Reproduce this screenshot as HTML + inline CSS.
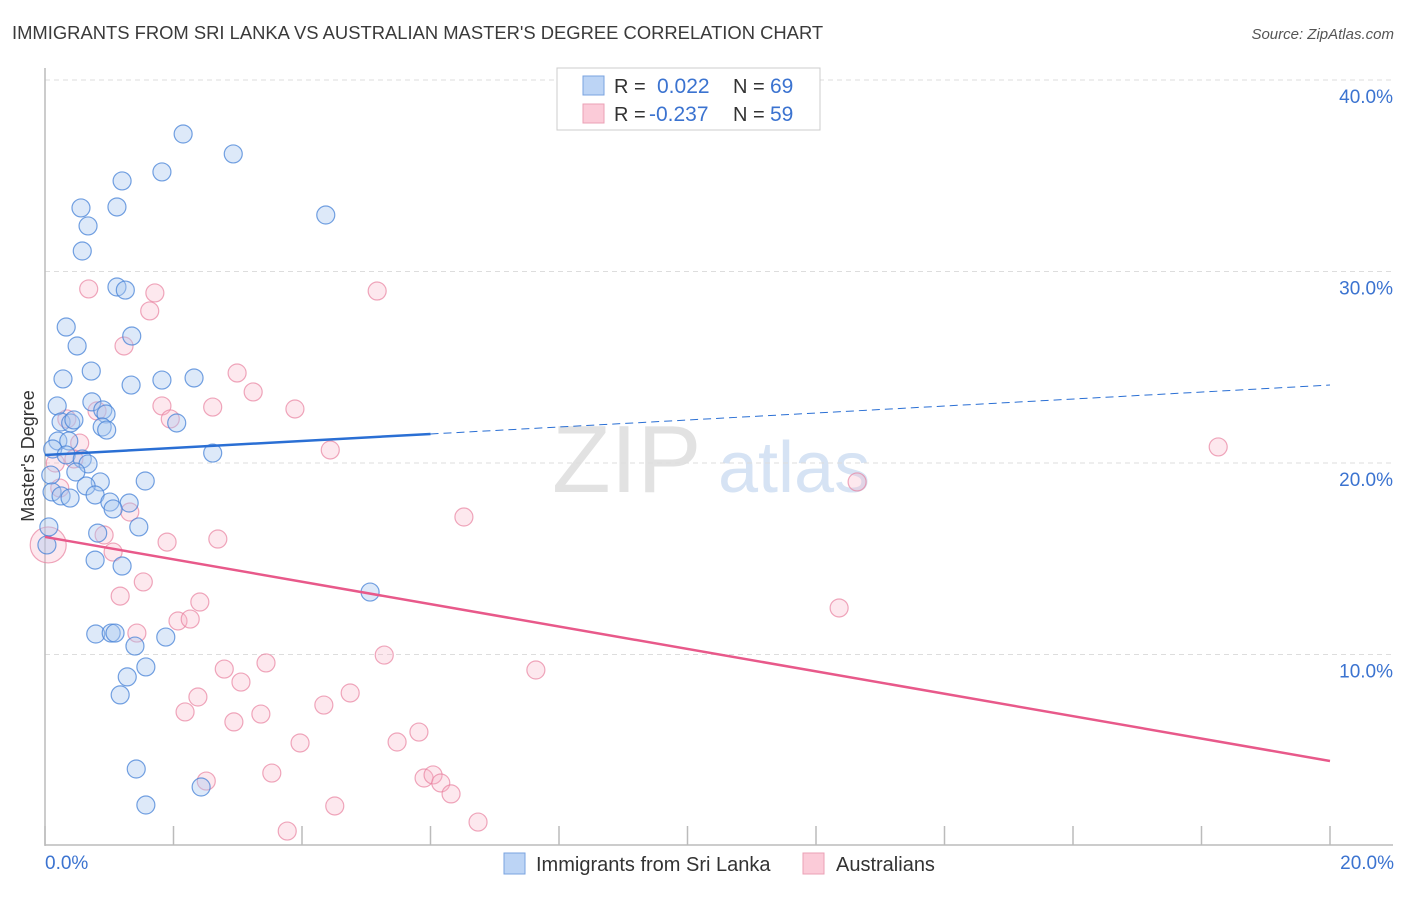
<!DOCTYPE html>
<html><head><meta charset="utf-8"><style>
body{margin:0;background:#fff;font-family:"Liberation Sans",sans-serif;}
svg text{font-family:"Liberation Sans",sans-serif;}
</style></head><body>
<svg id="chart" width="1406" height="892" viewBox="0 0 1406 892" xmlns="http://www.w3.org/2000/svg">
<text x="12" y="39" font-size="18.4" fill="#3a3a3a">IMMIGRANTS FROM SRI LANKA VS AUSTRALIAN MASTER'S DEGREE CORRELATION CHART</text>
<text x="1394" y="39" font-size="15" fill="#555" text-anchor="end" font-style="italic">Source: ZipAtlas.com</text>
<g>
<text x="552" y="492" font-size="96" fill="#e2e2e2" font-family="Liberation Serif,serif">ZIP</text>
<text x="718" y="492" font-size="72" fill="#d6e3f4">atlas</text>
</g>
<g id="grid"></g>
<line x1="45" y1="68" x2="45" y2="846" stroke="#bbb" stroke-width="1.5"/>
<line x1="45" y1="845" x2="1393" y2="845" stroke="#bbb" stroke-width="1.5"/>
<g id="xticks"></g>
<g id="ylabels"></g>
<text x="45" y="869" font-size="19" fill="#3b73d0">0.0%</text>
<text x="1394" y="869" font-size="19" fill="#3b73d0" text-anchor="end">20.0%</text>
<text transform="translate(34,456) rotate(-90)" font-size="18" fill="#333" text-anchor="middle">Master's Degree</text>
<g id="pinkpts"></g>
<g id="bluepts"></g>
<g id="trends"></g>
<g>
<rect x="557" y="68" width="263" height="62" fill="#fff" stroke="#ccc"/>
<rect x="583" y="76" width="21" height="19" fill="#bcd4f5" stroke="#7aa3e0"/>
<text x="614" y="93" font-size="20" fill="#333">R =</text>
<text x="657" y="93" font-size="21" fill="#3b73d0">0.022</text>
<text x="733" y="93" font-size="20" fill="#333">N =</text>
<text x="770" y="93" font-size="21" fill="#3b73d0">69</text>
<rect x="583" y="104" width="21" height="19" fill="#fbcbd8" stroke="#eba0b6"/>
<text x="614" y="121" font-size="20" fill="#333">R =</text>
<text x="649" y="121" font-size="21" fill="#3b73d0">-0.237</text>
<text x="733" y="121" font-size="20" fill="#333">N =</text>
<text x="770" y="121" font-size="21" fill="#3b73d0">59</text>
</g>
<g>
<rect x="504" y="853" width="21" height="21" fill="#bcd4f5" stroke="#7aa3e0"/>
<text x="536" y="871" font-size="20" fill="#333">Immigrants from Sri Lanka</text>
</g>
<g>
<rect x="803" y="853" width="21" height="21" fill="#fbcbd8" stroke="#eba0b6"/>
<text x="836" y="871" font-size="20" fill="#333">Australians</text>
</g>
</svg>
<script>
const yTicks=[10,20,30,40];
const yTickLabels=["10.0%","20.0%","30.0%","40.0%"];
const xTicks=[0,2,4,6,8,10,12,14,16,18,20];
const blueX=[2.15,2.93,1.82,1.20,0.56,1.12,0.67,4.37,0.58,1.12,1.25,0.33,1.35,0.50,0.72,0.28,1.34,1.82,2.32,0.19,0.73,0.90,0.95,0.25,0.40,0.45,0.89,0.96,2.05,0.20,0.37,2.61,0.12,0.33,0.58,0.67,0.09,0.48,0.86,1.56,0.64,0.11,0.25,0.39,0.78,1.01,1.31,1.06,1.46,0.06,0.82,0.03,0.78,1.20,5.06,0.79,1.03,1.09,1.88,1.40,1.57,1.28,1.17,1.42,1.57,2.43];
const blueY=[37.18,36.14,35.20,34.73,33.32,33.37,32.38,32.95,31.07,29.19,29.03,27.10,26.63,26.11,24.80,24.39,24.07,24.33,24.44,22.98,23.19,22.77,22.56,22.14,22.09,22.25,21.88,21.72,22.09,21.15,21.15,20.52,20.73,20.42,20.21,19.95,19.37,19.53,19.01,19.06,18.80,18.49,18.28,18.17,18.33,17.96,17.91,17.60,16.66,16.66,16.34,15.72,14.93,14.62,13.26,11.07,11.12,11.12,10.91,10.44,9.35,8.83,7.89,4.02,2.14,3.08];
const pinkX=[0.68,1.71,5.17,1.63,1.23,2.99,3.24,1.82,2.61,3.89,1.95,0.81,0.34,4.44,18.26,0.54,0.45,0.16,12.64,0.23,1.32,6.52,0.92,1.90,2.69,1.06,1.53,1.17,2.41,2.07,2.26,1.43,12.36,2.79,3.44,5.28,7.64,3.05,2.38,4.75,2.18,2.94,3.36,4.34,3.97,5.48,5.82,3.53,2.51,5.90,6.04,6.16,6.32,4.51,3.77,6.74,0.05];
const pinkY=[29.09,28.88,28.98,27.94,26.11,24.70,23.71,22.98,22.92,22.82,22.30,22.72,22.30,20.68,20.84,21.04,20.21,20.00,19.01,18.69,17.44,17.18,16.24,15.87,16.03,15.35,13.79,13.05,12.74,11.75,11.85,11.12,12.43,9.24,9.56,9.97,9.19,8.56,7.78,7.99,7.00,6.48,6.89,7.36,5.38,5.43,5.95,3.81,3.39,3.55,3.71,3.29,2.72,2.09,0.78,1.25,15.72];
const pinkR=[9,9,9,9,9,9,9,9,9,9,9,9,9,9,9,9,9,9,9,9,9,9,9,9,9,9,9,9,9,9,9,9,9,9,9,9,9,9,9,9,9,9,9,9,9,9,9,9,9,9,9,9,9,9,9,9,18];
const blueTrend=[20.42,24.07];
const blueSolidEnd=6.0;
const pinkTrend=[16.14,4.44];

const NS="http://www.w3.org/2000/svg";
const X=v=>45+v*64.25;
const Y=v=>846-v*19.15;
function mk(t,a,p){const e=document.createElementNS(NS,t);for(const k in a)e.setAttribute(k,a[k]);p.appendChild(e);return e;}
const grid=document.getElementById('grid');
const yl=document.getElementById('ylabels');
yTicks.forEach((t,i)=>{
  const l=mk('line',{x1:45,x2:1393,y1:Y(t),y2:Y(t),stroke:'#ddd','stroke-dasharray':'5,4'},grid);
  
  
  const tx=mk('text',{x:1393,y:Y(t)+23,'font-size':19,fill:'#3b73d0','text-anchor':'end'},yl);
  tx.textContent=yTickLabels[i];
  
  
});
const xt=document.getElementById('xticks');
xTicks.forEach(t=>{
  const l=mk('line',{x1:X(t),x2:X(t),y1:826,y2:845,stroke:'#bbb','stroke-width':1.5},xt);
  
  
});
const pp=document.getElementById('pinkpts');
pinkX.forEach((x,i)=>{
  const c=mk('circle',{cx:X(x),cy:Y(pinkY[i]),r:pinkR[i],fill:'rgba(248,180,200,0.3)',stroke:'rgba(232,130,160,0.7)','stroke-width':1.2},pp);
  
  
});
const bp=document.getElementById('bluepts');
blueX.forEach((x,i)=>{
  const c=mk('circle',{cx:X(x),cy:Y(blueY[i]),r:9,fill:'rgba(170,200,240,0.4)',stroke:'rgba(70,130,215,0.75)','stroke-width':1.2},bp);
  
  
});
const tr=document.getElementById('trends');
const bAt=v=>blueTrend[0]+(blueTrend[1]-blueTrend[0])*v/20;
const b1=mk('line',{x1:X(0),y1:Y(blueTrend[0]),x2:X(blueSolidEnd),y2:Y(bAt(blueSolidEnd)),stroke:'#2a6fd4','stroke-width':2.5},tr);


const b2=mk('line',{x1:X(blueSolidEnd),y1:Y(bAt(blueSolidEnd)),x2:X(20),y2:Y(blueTrend[1]),stroke:'#2a6fd4','stroke-width':1,'stroke-dasharray':'8,5'},tr);


const p1=mk('line',{x1:X(0),y1:Y(pinkTrend[0]),x2:X(20),y2:Y(pinkTrend[1]),stroke:'#e8598a','stroke-width':2.5},tr);


</script>
</body></html>
